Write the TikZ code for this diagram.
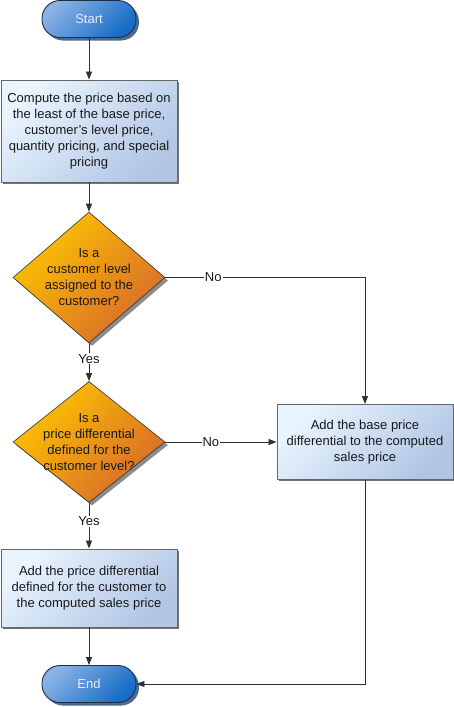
\documentclass[tikz,border=0pt]{standalone}
\usepackage{fontspec}
\setmainfont{Liberation Sans}
\usetikzlibrary{shapes.geometric,shadows,arrows.meta}

\definecolor{pilltop}{HTML}{8AB2E6}
\definecolor{pillbot}{HTML}{166CC6}
\definecolor{pillline}{HTML}{1E2E48}
\definecolor{pillshade}{HTML}{4E6A92}
\definecolor{boxtop}{HTML}{E8F4FE}
\definecolor{boxbot}{HTML}{B2C6E4}
\definecolor{decitop}{HTML}{FDC400}
\definecolor{decibot}{HTML}{D8692C}
\definecolor{wire}{HTML}{303030}

\begin{document}
\begin{tikzpicture}[%
		x=1pt,y=-1pt,
		font=\fontsize{13}{16}\selectfont,
		every node/.style={align=center,text=black!90},
		terminal/.style={draw=pillline,line width=0.9pt,rounded corners=18pt,
			minimum width=94pt,minimum height=37pt,
			top color=pilltop,bottom color=pillbot,shading angle=45,
			text=white!92!blue,
			drop shadow={shadow xshift=3pt,shadow yshift=-3pt,fill=pillshade,opacity=1}},
		process/.style={draw=black!60,line width=0.9pt,minimum width=176pt,
			top color=boxtop,bottom color=boxbot,shading angle=45,
			drop shadow={shadow xshift=1.5pt,shadow yshift=-1.5pt,fill=black!55,opacity=1}},
		decision/.style={diamond,draw=black!80,line width=0.6pt,inner sep=-8pt,
			minimum width=152pt,
			top color=decitop,bottom color=decibot,shading angle=45,
			drop shadow={shadow xshift=3pt,shadow yshift=-3pt,fill=black!45,opacity=1}},
		arr/.style={draw=wire,line width=0.8pt,-{Triangle[length=8pt,width=6pt]}},
		lbl/.style={fill=white,inner sep=1pt}]
		\useasboundingbox (0,0) rectangle (454,707);
		\node[terminal](start)at(89,19){Start};
		\node[process,minimum height=102pt](comp)at(89,131){Compute the price based on\\the least of the base price,\\customer's level price,\\quantity pricing, and special\\pricing};
		\node[decision,minimum height=131pt](lvl)at(89,277.5){Is a\\customer level\\assigned to the\\customer?};
		\node[decision,minimum height=121pt](diff)at(89,442){Is a\\price differential\\defined for the\\customer level?};
		\node[process,minimum height=75pt](base)at(365,442){Add the base price\\differential to the computed\\sales price};
		\node[process,minimum height=78pt](cust)at(89,588){Add the price differential\\defined for the customer to\\the computed sales price};
		\node[terminal](end)at(89,684){End};
		\draw[arr](start)--(comp);
		\draw[arr](comp)--(lvl);
		\draw[arr](lvl.east)-|node[lbl,pos=0.12]{No}(base.north);
		\draw[arr](lvl.south)--node[lbl,pos=0.41]{Yes}(diff.north);
		\draw[arr](diff.east)--node[lbl,pos=0.41]{No}(base.west);
		\draw[arr](diff.south)--node[lbl,pos=0.41]{Yes}(cust.north);
		\draw[arr](cust)--(end);
		\draw[arr](base.south)|-(end.east);
	\end{tikzpicture}
\end{document}
